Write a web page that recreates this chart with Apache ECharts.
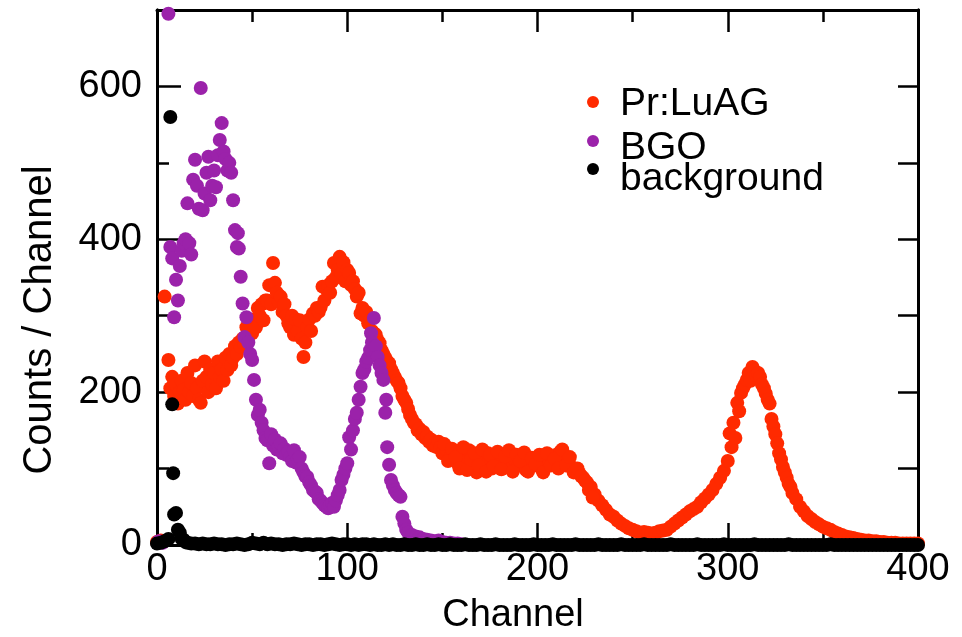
<!DOCTYPE html>
<html>
<head>
<meta charset="utf-8">
<script src="https://cdn.jsdelivr.net/npm/echarts@6/dist/echarts.min.js"></script>
<style>
  html, body { margin: 0; padding: 0; background: #ffffff; }
  #chart { width: 962px; height: 637px; }
</style>
</head>
<body>
<div id="chart"></div>
<script>
// Pulse-height spectra: counts per channel for each scintillator and the background run
const seriesNames = ['Pr:LuAG', 'BGO', 'background'];
const xTicks = [0, 100, 200, 300, 400];
const yTicks = [0, 200, 400, 600];

const luagChannel = [
  0, 2, 4, 6, 7, 8, 9, 10, 11, 12, 13, 14, 15, 16, 17, 18, 19, 20, 21, 22,
  23, 24, 25, 26, 27, 28, 29, 30, 31, 32, 33, 34, 35, 36, 37, 38, 39, 40, 41, 42,
  43, 44, 45, 46, 47, 48, 49, 50, 51, 52, 53, 54, 55, 56, 57, 58, 59, 60, 61, 62,
  63, 64, 65, 66, 67, 68, 69, 70, 71, 72, 73, 74, 75, 76, 77, 78, 79, 80, 81, 82,
  83, 84, 85, 86, 87, 88, 89, 90, 91, 92, 93, 94, 95, 96, 97, 98, 99, 100, 101, 102,
  103, 104, 105, 106, 107, 108, 109, 110, 111, 112, 113, 114, 115, 116, 117, 118, 119, 120, 121, 122,
  123, 124, 125, 126, 127, 128, 129, 130, 131, 132, 133, 134, 135, 136, 137, 138, 139, 140, 141, 142,
  143, 144, 145, 146, 147, 148, 149, 150, 152, 154, 156, 158, 160, 162, 164, 166, 168, 170, 172, 174,
  176, 178, 180, 182, 184, 186, 188, 190, 192, 194, 196, 198, 200, 202, 204, 206, 208, 210, 212, 214,
  216, 218, 220, 222, 224, 226, 228, 230, 232, 234, 236, 238, 240, 242, 244, 246, 248, 250, 252, 254,
  256, 258, 260, 262, 264, 266, 268, 270, 272, 274, 276, 278, 280, 282, 284, 286, 288, 290, 292, 294,
  296, 298, 300, 301, 302, 303, 304, 305, 306, 307, 308, 309, 310, 311, 312, 313, 314, 315, 316, 317,
  318, 319, 320, 321, 322, 323, 324, 325, 326, 327, 328, 329, 330, 331, 332, 333, 334, 336, 338, 340,
  342, 344, 346, 348, 350, 352, 354, 356, 358, 360, 362, 364, 366, 368, 370, 372, 374, 376, 378, 380,
  382, 384, 386, 388, 390, 392, 394, 396, 398, 400,
  // second pass over the broad plateau, where the spectrum scatters more widely
  151, 153, 155, 157, 159, 161, 163, 165, 167, 169, 171, 173, 175, 177, 179, 181, 183, 185, 187, 189,
  191, 193, 195, 197, 199, 201, 203, 205, 207, 209, 211, 213, 215, 217, 219, 221, 223, 225, 227, 229
];
const luagCounts = [
  4, 6, 325, 242, 205, 220, 195, 210, 185, 200, 215, 203, 190, 225, 200, 212, 195, 235, 205, 190,
  186, 215, 240, 220, 200, 230, 210, 225, 205, 240, 220, 230, 215, 245, 229, 250, 235, 245, 260, 250,
  265, 259, 270, 262, 285, 275, 290, 277, 295, 285, 310, 300, 315, 294, 320, 320, 340, 315, 369, 343,
  330, 318, 325, 305, 315, 300, 290, 285, 300, 275, 295, 280, 294, 270, 246, 265, 285, 295, 280, 303,
  300, 310, 305, 311, 338, 320, 335, 340, 330, 345, 369, 350, 360, 377, 355, 370, 345, 360, 356, 340,
  345, 335, 325, 330, 303, 310, 300, 305, 290, 295, 280, 277, 275, 268, 264, 255, 250, 245, 240, 238,
  230, 225, 220, 215, 212, 205, 195, 190, 186, 178, 170, 165, 160, 158, 150, 152, 145, 148, 140, 142,
  135, 138, 130, 133, 128, 135, 128, 120, 125, 115, 118, 107, 120, 110, 124, 105, 95, 115, 108, 120,
  100, 112, 106, 115, 107, 100, 112, 104, 110, 98, 108, 104, 111, 100, 108, 112, 105, 118, 122, 110,
  108, 102, 98, 94, 88, 82, 76, 66, 58, 52, 46, 40, 37, 32, 28, 25, 22, 20, 18, 16,
  17, 16, 15, 16, 18, 19, 20, 24, 28, 32, 36, 40, 44, 47, 50, 56, 61, 66, 72, 80,
  88, 97, 110, 146, 128, 160, 140, 186, 175, 199, 205, 210, 216, 225, 215, 233, 228, 222, 225, 220,
  210, 205, 198, 190, 185, 165, 155, 145, 133, 120, 112, 102, 95, 88, 80, 76, 68, 60, 50, 44,
  38, 34, 30, 27, 24, 22, 20, 17, 15, 13, 11, 10, 9, 8, 7, 6, 6, 5, 5, 4,
  4, 3, 3, 3, 2, 2, 2, 2, 2, 2,
  132, 110, 126, 115, 100, 128, 98, 112, 120, 104, 125, 96, 118, 103, 122, 99, 116, 124, 96, 118,
  110, 121, 96, 114, 106, 118, 95, 120, 104, 113, 100, 125, 104, 115, 95, 100, 90, 84, 72, 62
];

const bgoChannel = [
  1, 3, 6, 7, 8, 9, 10, 11, 12, 13, 14, 15, 16, 17, 18, 19, 20, 21, 22, 23,
  24, 25, 26, 27, 28, 29, 30, 31, 32, 33, 34, 35, 36, 37, 38, 39, 40, 41, 42, 42.5,
  43, 44, 45, 46, 47, 48, 49, 50, 51, 52, 53, 54, 55, 56, 57, 58, 59, 60, 61, 62,
  63, 64, 65, 66, 67, 68, 69, 70, 71, 72, 73, 74, 75, 76, 77, 78, 79, 80, 81, 82,
  83, 84, 85, 86, 87, 88, 89, 90, 91, 92, 93, 94, 95, 96, 97, 98, 99, 100, 101, 102,
  103, 104, 105, 106, 107, 108, 109, 110, 111, 112, 112.5, 113, 114, 115, 116, 117, 118, 119, 120, 120.5,
  121, 122, 123, 124, 125, 126, 127, 128, 129, 130, 131, 132, 134, 136, 138, 140, 142, 144, 146, 148,
  150, 152, 154, 156, 158, 160
];
const bgoCounts = [
  5, 3, 695, 390, 375, 298, 347, 320, 365, 385, 395, 400, 447, 395, 380, 478, 504, 470, 440, 598,
  438, 460, 487, 508, 451, 470, 490, 468, 510, 530, 552, 515, 505, 490, 500, 487, 451, 412, 390, 408,
  388, 351, 316, 272, 298, 265, 250, 242, 216, 190, 170, 177, 160, 150, 140, 137, 107, 145, 130, 138,
  125, 128, 133, 120, 126, 118, 122, 115, 110, 124, 108, 112, 115, 100, 95, 90, 89, 82, 78, 72,
  70, 68, 60, 58, 55, 52, 50, 48, 52, 55, 50, 58, 65, 72, 85, 92, 100, 107, 141, 125,
  150, 165, 173, 190, 207, 225, 230, 240, 245, 255, 277, 265, 297, 260, 246, 235, 225, 216, 173, 190,
  128, 105, 85, 78, 72, 68, 65, 63, 37, 28, 20, 16, 13, 11, 10, 8, 7, 6, 5, 6,
  4, 3, 3, 2, 2, 1
];

const bgChannel = [
  0, 2, 4, 6, 7, 8, 8.5, 9, 10, 11, 12, 13, 14, 15,
  16, 18, 20, 22, 24, 26, 28, 30, 32, 34, 36, 38, 40, 42, 44, 46, 48, 50, 52, 54,
  56, 58, 60, 62, 64, 66, 68, 70, 72, 74, 76, 78, 80, 82, 84, 86, 88, 90, 92, 94,
  96, 98, 100, 102, 104, 106, 108, 110, 112, 114, 116, 118, 120, 122, 124, 126, 128, 130, 132, 134,
  136, 138, 140, 142, 144, 146, 148, 150, 152, 154, 156, 158, 160, 162, 164, 166, 168, 170, 172, 174,
  176, 178, 180, 182, 184, 186, 188, 190, 192, 194, 196, 198, 200, 202, 204, 206, 208, 210, 212, 214,
  216, 218, 220, 222, 224, 226, 228, 230, 232, 234, 236, 238, 240, 242, 244, 246, 248, 250, 252, 254,
  256, 258, 260, 262, 264, 266, 268, 270, 272, 274, 276, 278, 280, 282, 284, 286, 288, 290, 292, 294,
  296, 298, 300, 302, 304, 306, 308, 310, 312, 314, 316, 318, 320, 322, 324, 326, 328, 330, 332, 334,
  336, 338, 340, 342, 344, 346, 348, 350, 352, 354, 356, 358, 360, 362, 364, 366, 368, 370, 372, 374,
  376, 378, 380, 382, 384, 386, 388, 390, 392, 394, 396, 398, 400
];
const bgCounts = [
  2, 3, 5, 8, 560, 184, 94, 40, 42, 20, 16, 8, 7, 4,
  3, 2, 2, 1, 2, 1, 1, 2, 1, 1, 0, 1, 1, 2, 1, 0, 1, 3, 2, 1,
  3, 1, 2, 1, 1, 0, 1, 1, 2, 1, 0, 1, 1, 0, 1, 1, 0, 1, 2, 1,
  0, 1, 1, 0, 1, 0, 1, 1, 0, 1, 0, 0, 1, 0, 1, 0, 0, 1, 0, 0,
  1, 0, 0, 1, 0, 0, 1, 0, 0, 1, 0, 0, 0, 1, 0, 0, 0, 1, 0, 0,
  0, 1, 0, 0, 0, 0, 1, 0, 0, 0, 0, 1, 0, 0, 0, 0, 1, 0, 0, 0,
  0, 0, 1, 0, 0, 0, 0, 0, 1, 0, 0, 0, 0, 0, 1, 0, 0, 0, 0, 0,
  1, 0, 0, 0, 0, 0, 0, 1, 0, 0, 0, 0, 0, 0, 1, 0, 0, 0, 0, 0,
  0, 1, 0, 0, 0, 0, 0, 0, 0, 1, 0, 0, 0, 0, 0, 0, 0, 0, 1, 0,
  0, 0, 0, 0, 0, 0, 0, 0, 0, 1, 0, 0, 0, 0, 0, 0, 0, 0, 0, 0,
  0, 0, 0, 0, 0, 0, 0, 0, 0, 0, 0, 0, 0
];

const colors = ['#ff2a00', '#9b22aa', '#000000'];

function pairs(xs, ys) {
  return xs.map(function (x, i) { return [x, ys[i]]; });
}

const FONT = 'Liberation Sans, Arial, Helvetica, sans-serif';
const frame = { show: true, onZero: false, lineStyle: { color: '#000', width: 3 } };
const tickStyle = { color: '#000', width: 2.5 };

function xAxisDef(pos, labels) {
  return {
    type: 'value', position: pos, min: 0, max: 400, interval: 100,
    axisLine: frame,
    axisTick: { show: true, inside: true, length: 22, lineStyle: tickStyle },
    minorTick: { show: true, splitNumber: 2, length: 12, lineStyle: tickStyle },
    splitLine: { show: false }, minorSplitLine: { show: false },
    axisLabel: labels ? {
      show: true, margin: 6, color: '#000', fontSize: 38, fontFamily: FONT,
      formatter: function (v) { return xTicks.indexOf(v) >= 0 ? String(v) : ''; }
    } : { show: false }
  };
}

function yAxisDef(pos, step, tickLen, labels) {
  return {
    type: 'value', position: pos, min: 0, max: 700, interval: step,
    axisLine: frame,
    axisTick: { show: true, inside: true, length: tickLen, lineStyle: tickStyle },
    splitLine: { show: false },
    axisLabel: labels ? {
      show: true, margin: 15, color: '#000', fontSize: 38, fontFamily: FONT,
      formatter: function (v) { return yTicks.indexOf(v) >= 0 ? String(v) : ''; }
    } : { show: false }
  };
}

// Legend dot drawn near the top of a taller box, so it sits a little above the text centre
function dotIcon(boxHeight) {
  return 'path://M0,6 A6,6 0 1,1 12,6 A6,6 0 1,1 0,6 Z M6,' + boxHeight + ' L6,' + boxHeight;
}

function legendDef(name, top, boxHeight) {
  return {
    data: [{ name: name, icon: dotIcon(boxHeight) }],
    left: 587, top: top, padding: 0, orient: 'vertical',
    itemWidth: 12, itemHeight: boxHeight, selectedMode: false,
    textStyle: {
      color: '#000', fontSize: 39, fontFamily: FONT, lineHeight: 40,
      padding: [0, 0, 0, 16]
    }
  };
}

const chart = echarts.init(document.getElementById('chart'), null, { renderer: 'canvas' });

chart.setOption({
  backgroundColor: '#ffffff',
  animation: false,
  color: colors,
  grid: { left: 157, right: 44, top: 10, bottom: 92, containLabel: false },
  xAxis: [xAxisDef('bottom', true), xAxisDef('top', false)],
  yAxis: [
    yAxisDef('left', 200, 24, true),
    yAxisDef('left', 100, 12, false),
    yAxisDef('right', 200, 20, false),
    yAxisDef('right', 100, 20, false)
  ],
  legend: [
    legendDef(seriesNames[0], 84, 16),
    legendDef(seriesNames[1], 128, 26),
    legendDef(seriesNames[2], 159, 32)
  ],
  graphic: [
    {
      type: 'text', x: 40, y: 320, rotation: Math.PI / 2,
      style: {
        text: 'Counts / Channel', fill: '#000', fontSize: 40, fontFamily: FONT,
        align: 'center', verticalAlign: 'middle'
      }
    },
    {
      type: 'text', x: 513, y: 616,
      style: {
        text: 'Channel', fill: '#000', fontSize: 38, fontFamily: FONT,
        align: 'center', verticalAlign: 'middle'
      }
    }
  ],
  series: [
    {
      name: seriesNames[0], type: 'scatter', xAxisIndex: 0, yAxisIndex: 0,
      symbol: 'circle', symbolSize: 14, clip: false, z: 2,
      itemStyle: { color: colors[0], opacity: 1 },
      data: pairs(luagChannel, luagCounts)
    },
    {
      name: seriesNames[1], type: 'scatter', xAxisIndex: 0, yAxisIndex: 0,
      symbol: 'circle', symbolSize: 14, clip: false, z: 3,
      itemStyle: { color: colors[1], opacity: 1 },
      data: pairs(bgoChannel, bgoCounts)
    },
    {
      name: seriesNames[2], type: 'scatter', xAxisIndex: 0, yAxisIndex: 0,
      symbol: 'circle', symbolSize: 14, clip: false, z: 4,
      itemStyle: { color: colors[2], opacity: 1 },
      data: pairs(bgChannel, bgCounts)
    }
  ]
});
</script>
</body>
</html>
